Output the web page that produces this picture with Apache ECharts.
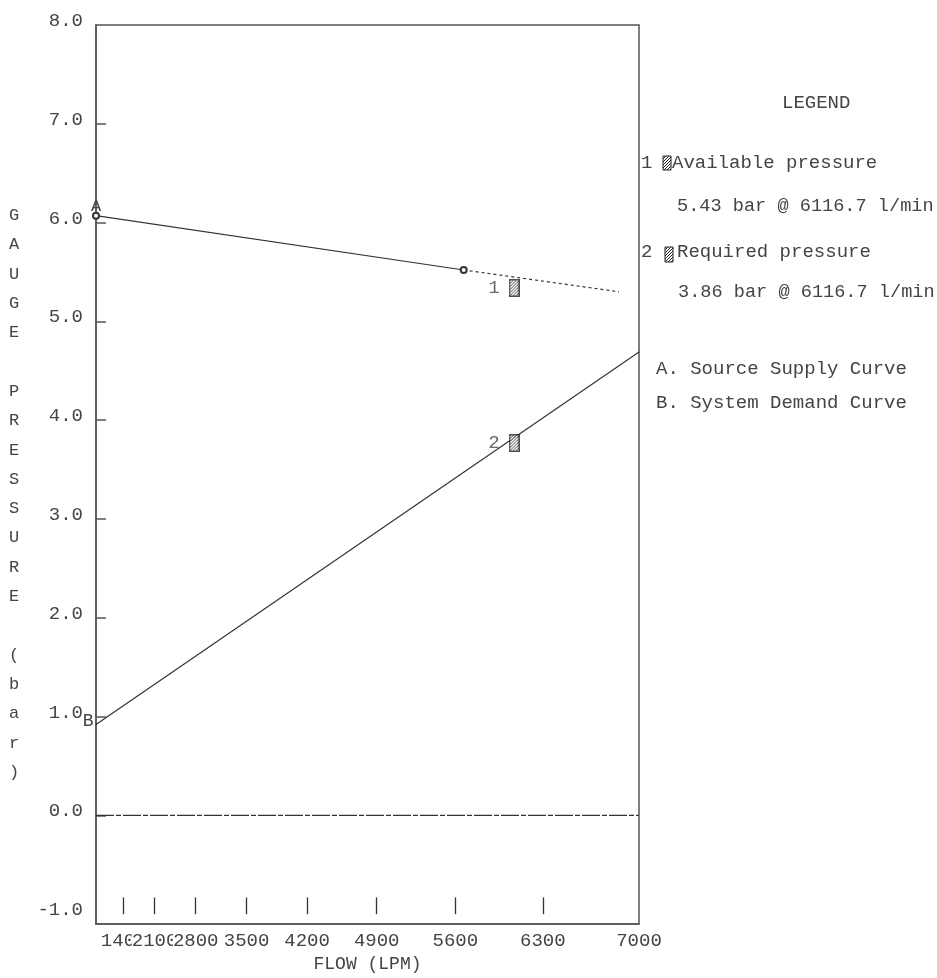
<!DOCTYPE html>
<html>
<head>
<meta charset="utf-8">
<script src="https://cdn.jsdelivr.net/npm/echarts@6/dist/echarts.min.js"></script>
<style>html,body{margin:0;padding:0;background:#fff;}#chart{width:937px;height:978px;}</style>
</head>
<body>
<div id="chart"></div>
<script>
// ---- data ----
const xTickFlows = [1400, 2100, 2800, 3500, 4200, 4900, 5600, 6300, 7000];
const xMarkFlows = [1400, 2100, 2800, 3500, 4200, 4900, 5600, 6300];
const yTickValues = [-1, 0, 1, 2, 3, 4, 5, 6, 7, 8];
const supplyFlow = [0, 5670];
const supplyPressure = [6.07, 5.52];
const supplyExtFlow = [5670, 6860];
const supplyExtPressure = [5.52, 5.30];
const demandFlow = [0, 7000];
const demandPressure = [0.92, 4.69];
const zeroFlow = [0, 7000];
const zeroPressure = [0, 0];
const pointFlow = [6116.7, 6116.7];
const pointPressure = [5.43, 3.86];
const pointLabels = ['1', '2'];
const yTitle = 'GAUGE PRESSURE (bar)';

// N^1.85 flow scale
const EXP = 1.85;
const T = q => Math.pow(q / 1000, EXP);
const invT = t => Math.pow(t, 1 / EXP) * 1000;

const FONT = "'Liberation Mono', 'DejaVu Sans Mono', monospace";
const TXT = '#444';

function hatchCanvas(w, h, border) {
  const c = document.createElement('canvas');
  c.width = w; c.height = h;
  const g = c.getContext('2d');
  g.fillStyle = '#fff'; g.fillRect(0, 0, w, h);
  g.strokeStyle = '#222'; g.lineWidth = 1;
  g.beginPath();
  for (let k = -h; k < w + h; k += 3) {
    g.moveTo(k, h); g.lineTo(k + h, 0);
  }
  g.stroke();
  if (border) {
    g.strokeStyle = '#222'; g.lineWidth = 1.5;
    g.strokeRect(0.75, 0.75, w - 1.5, h - 1.5);
  }
  return c;
}
const pattern = { image: hatchCanvas(6, 6, false), repeat: 'repeat' };
const markerImg = 'image://' + hatchCanvas(11, 18, true).toDataURL();

const zip = (xs, ys) => xs.map((x, i) => [T(x), ys[i]]);

// three interleaved bottom axes so that the crowded flow labels overlap like the original
function flowAxis(k) {
  return {
    type: 'value', min: 0, max: T(7000), position: 'bottom', offset: 0, z: 2 + k,
    name: k === 0 ? 'FLOW (LPM)' : '', nameLocation: 'middle', nameGap: 28,
    nameTextStyle: { fontFamily: FONT, fontSize: 18, color: TXT },
    axisLine: { show: k === 0, onZero: false, lineStyle: { color: '#555', width: 1.5 } },
    axisTick: { show: false },
    splitLine: { show: false },
    axisLabel: {
      customValues: xTickFlows.filter((f, i) => i % 3 === k).map(T),
      formatter: v => String(Math.round(invT(v) / 100) * 100),
      fontFamily: FONT, fontSize: 19, color: TXT, margin: 7,
      backgroundColor: '#fff', hideOverlap: false,
      showMinLabel: true, showMaxLabel: true
    }
  };
}

const chart = echarts.init(document.getElementById('chart'), null, { renderer: 'canvas' });

const legendFont = '19px ' + FONT;
const dataFont = '18.6px ' + FONT;
const option = {
  animation: false,
  backgroundColor: '#fff',
  grid: { left: 96, top: 25, right: 298, bottom: 48, show: true, borderColor: '#555', borderWidth: 1.5 },
  xAxis: [flowAxis(0), flowAxis(1), flowAxis(2)],
  yAxis: {
    type: 'value', min: -1.1, max: 8,
    axisLine: { show: true, lineStyle: { color: '#555', width: 1.5 } },
    axisTick: { show: true, inside: true, length: 10, customValues: [0, 1, 2, 3, 4, 5, 6, 7], lineStyle: { color: '#555', width: 1.5 } },
    splitLine: { show: false },
    axisLabel: {
      customValues: yTickValues,
      formatter: v => v.toFixed(1),
      fontFamily: FONT, fontSize: 19, color: TXT, margin: 13,
      verticalAlign: 'bottom', lineHeight: 8,
      showMinLabel: true, showMaxLabel: true
    }
  },
  series: [
    {
      type: 'line', name: 'zero', data: zip(zeroFlow, zeroPressure), symbol: 'none', silent: true,
      lineStyle: { color: '#333', width: 1.2, type: [18, 2, 5, 2] },
      markLine: {
        silent: true, symbol: ['none', 'none'], label: { show: false },
        lineStyle: { color: '#333', width: 1.3, type: 'solid' },
        data: xMarkFlows.map(f => [{ coord: [T(f), -1.0] }, { coord: [T(f), -0.83] }])
      }
    },
    {
      type: 'line', name: 'Source Supply Curve', data: zip(supplyFlow, supplyPressure),
      symbol: 'emptyCircle', symbolSize: 6,
      itemStyle: { color: '#333', borderWidth: 1 },
      lineStyle: { color: '#333', width: 1.2 },
      label: {
        show: true, position: 'top', distance: -3,
        formatter: p => p.dataIndex === 0 ? 'A' : '',
        fontFamily: FONT, fontSize: 17, color: TXT
      }
    },
    {
      type: 'line', name: 'Supply extension', data: zip(supplyExtFlow, supplyExtPressure),
      symbol: 'none', lineStyle: { color: '#333', width: 1.2, type: [3, 3] }
    },
    {
      type: 'line', name: 'System Demand Curve', data: zip(demandFlow, demandPressure),
      symbol: 'circle', symbolSize: 1, itemStyle: { color: '#333' },
      lineStyle: { color: '#333', width: 1.2 },
      label: {
        show: true, position: 'left', distance: 1, offset: [0, -3],
        formatter: p => p.dataIndex === 0 ? 'B' : '',
        fontFamily: FONT, fontSize: 18, color: TXT, backgroundColor: '#fff', padding: [2, 1, 2, 0]
      }
    },
    {
      type: 'scatter', name: 'points', z: 5,
      data: pointFlow.map((f, i) => ({ value: [T(f), pointPressure[i]], name: pointLabels[i] })),
      symbol: markerImg, symbolSize: [11, 18], symbolOffset: [-5, 9],
      label: {
        show: true, position: 'left', distance: 9, formatter: p => p.name,
        fontFamily: FONT, fontSize: 19, color: TXT
      }
    }
  ],
  graphic: [
    { type: 'text', x: 14, y: 494, style: { text: yTitle.split('').join('\n'), font: '17px ' + FONT, fill: TXT, textAlign: 'center', textVerticalAlign: 'middle', lineHeight: 29.3 } },
    { type: 'text', x: 782, y: 103, style: { text: 'LEGEND', font: legendFont, fill: TXT, textVerticalAlign: 'middle' } },
    { type: 'text', x: 641, y: 163, style: { text: '1', font: legendFont, fill: TXT, textVerticalAlign: 'middle' } },
    { type: 'rect', shape: { x: 663, y: 156, width: 8, height: 14 }, style: { fill: pattern, stroke: '#222', lineWidth: 1 } },
    { type: 'text', x: 672, y: 163, style: { text: 'Available pressure', font: legendFont, fill: TXT, textVerticalAlign: 'middle' } },
    { type: 'text', x: 677, y: 206, style: { text: '5.43 bar @ 6116.7 l/min', font: dataFont, fill: TXT, textVerticalAlign: 'middle' } },
    { type: 'text', x: 641, y: 252, style: { text: '2', font: legendFont, fill: TXT, textVerticalAlign: 'middle' } },
    { type: 'rect', shape: { x: 665, y: 247, width: 8, height: 15 }, style: { fill: pattern, stroke: '#222', lineWidth: 1 } },
    { type: 'text', x: 677, y: 252, style: { text: 'Required pressure', font: legendFont, fill: TXT, textVerticalAlign: 'middle' } },
    { type: 'text', x: 678, y: 292, style: { text: '3.86 bar @ 6116.7 l/min', font: dataFont, fill: TXT, textVerticalAlign: 'middle' } },
    { type: 'text', x: 656, y: 369, style: { text: 'A. Source Supply Curve', font: legendFont, fill: TXT, textVerticalAlign: 'middle' } },
    { type: 'text', x: 656, y: 403, style: { text: 'B. System Demand Curve', font: legendFont, fill: TXT, textVerticalAlign: 'middle' } }
  ]
};
chart.setOption(option);
</script>
</body>
</html>
